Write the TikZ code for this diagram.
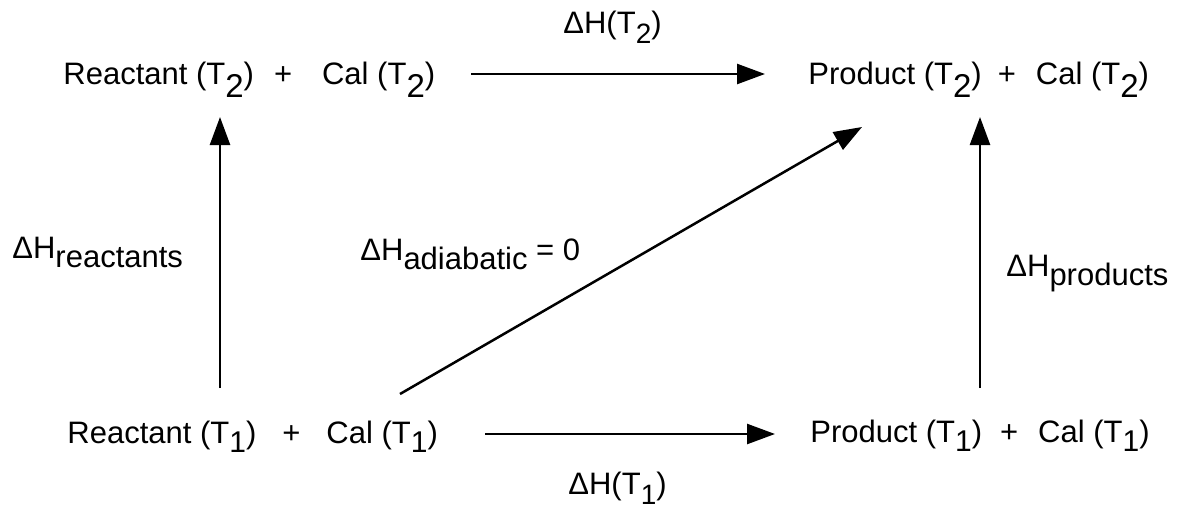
\documentclass[tikz,border=0pt]{standalone}
\usepackage{fontspec}
\setmainfont{Liberation Sans}
\usetikzlibrary{arrows.meta}
\newcommand\subT[1]{\raisebox{-6pt}{\fontsize{16.5}{16.5}\selectfont #1}}
\newcommand\subB[1]{\raisebox{-4.5pt}{\fontsize{15}{15}\selectfont #1}}
\newcommand\subL[1]{\raisebox{-4.5pt}{\fontsize{15.5}{15.5}\selectfont #1}}
\newcommand\subD[1]{\raisebox{-5pt}{\fontsize{14}{14}\selectfont #1}}
\begin{document}
\begin{tikzpicture}[x=0.5pt,y=-0.5pt,
  state/.style={anchor=base west, inner sep=0pt, font=\fontsize{15.5}{18}\selectfont},
  lbl/.style={anchor=base west, inner sep=0pt, font=\fontsize{15.5}{18}\selectfont},
  rxn/.style={line width=1.25pt, -{Triangle[length=14pt,width=10pt]}}]
\useasboundingbox (0,0) rectangle (1182,508);
% states
\node[state] (r2) at (63,85) {Reactant (T\subT{2})\hspace{10pt}+\hspace{15pt}Cal (T\subT{2})};
\node[state] (p2) at (808,85) {Product (T\subT{2})\hspace{8pt}+\hspace{10pt}Cal (T\subT{2})};
\node[state] (r1) at (67,443) {Reactant (T\subB{1})\hspace{13pt}+\hspace{13pt}Cal (T\subB{1})};
\node[state] (p1) at (810,442) {Product (T\subB{1})\hspace{9pt}+\hspace{10pt}Cal (T\subB{1})};
% arrow end points
\coordinate (t1) at (471,74);  \coordinate (t2) at (765,74);
\coordinate (b1) at (485,434); \coordinate (b2) at (775,434);
\coordinate (l1) at (220,388); \coordinate (l2) at (220,117);
\coordinate (q1) at (980,388); \coordinate (q2) at (980,117);
\coordinate (d1) at (400,394); \coordinate (d2) at (862,127);
% arrows
\draw[rxn] (t1) -- (t2);
\draw[rxn] (b1) -- (b2);
\draw[rxn] (l1) -- (l2);
\draw[rxn] (q1) -- (q2);
\draw[rxn] (d1) -- (d2);
% labels
\node[lbl] (h2) at (563,34) {ΔH(T\subD{2})};
\node[lbl] (h1) at (568,494) {ΔH(T\subD{1})};
\node[lbl] (hr) at (12,258) {ΔH\subL{reactants}};
\node[lbl] (hp) at (1006,276) {ΔH\subL{products}};
\node[lbl] (ha) at (360,260) {ΔH\subL{adiabatic} = 0};
\end{tikzpicture}
\end{document}
